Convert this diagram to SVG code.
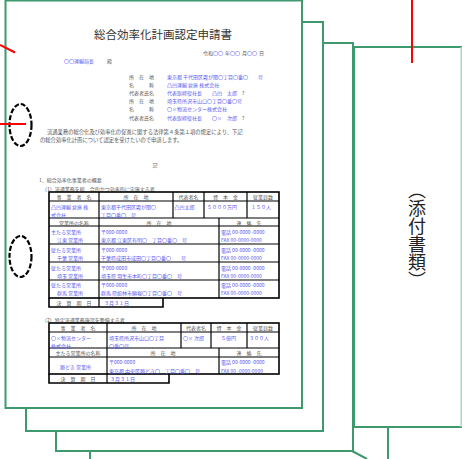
<svg xmlns="http://www.w3.org/2000/svg" width="462" height="459" viewBox="0 0 462 459">
<style>
.pg{fill:#fff;stroke:#3c9a6e;stroke-width:2}
.gl{fill:none;stroke:#3c9a6e;stroke-width:2}
.lg{fill:none;stroke:#a9d8bf;stroke-width:1.5}
.red{stroke:#ff0000;stroke-width:2;fill:none}
.hole{fill:none;stroke:#000;stroke-width:2.2;stroke-dasharray:5 2}
text{font-family:"Noto Sans CJK JP","Noto Sans",sans-serif;dominant-baseline:central}
.t{font-size:11.5px;fill:#333;letter-spacing:0}
.s{font-size:5px;fill:#555}
.b{font-size:5px;fill:#5a5af5}
.bd{font-size:5.3px;fill:#555}
.c{text-anchor:middle}
.tb{fill:none;stroke:#000;stroke-width:1.2}
.to{fill:none;stroke:#000;stroke-width:1.6}
.v{font-size:18px;fill:#222;writing-mode:vertical-rl}
</style>
<g id="back-pages">
<line class="gl" x1="90" y1="451" x2="90" y2="459"/>
<line class="gl" x1="352" y1="451" x2="367" y2="459"/>
<line class="gl" x1="388" y1="427" x2="388" y2="459"/>
</g>
<g id="attachments">
<rect x="354" y="47" width="108" height="380" fill="#fff" stroke="none"/>
<polyline class="gl" points="462,47 354,47 354,427 462,427"/>
<line class="lg" x1="461.2" y1="47" x2="461.2" y2="427"/>
<text class="v" x="417" y="181">（添付書類）</text>
</g>
<g id="page3"><rect class="pg" x="56" y="43" width="297" height="408"/></g>
<g id="page2"><rect class="pg" x="26" y="22" width="297" height="409"/></g>
<g id="page1">
<rect class="pg" x="5.5" y="0.5" width="296.5" height="407.5"/>
<text class="t" x="94" y="34">総合効率化計画認定申請書</text>
<text class="s" x="203" y="52"><tspan>令和</tspan><tspan fill="#5a5af5">〇〇</tspan><tspan dx="2">年</tspan><tspan fill="#5a5af5">〇〇</tspan><tspan dx="2">月</tspan><tspan fill="#5a5af5">〇〇</tspan><tspan dx="2">日</tspan></text>
<text class="b" x="64" y="60">〇〇運輸局長</text>
<text class="s" x="107" y="60">殿</text>
<text class="s" x="129" y="76">所　在　地</text>
<text class="s" x="129" y="84">名　　　称</text>
<text class="s" x="129" y="92">代表者氏名</text>
<text class="s" x="129" y="100">所　在　地</text>
<text class="s" x="129" y="108">名　　　称</text>
<text class="s" x="129" y="117">代表者氏名</text>
<text class="b" x="167" y="76">東京都 千代田区霞が関〇丁目〇番〇　　号</text>
<text class="b" x="167" y="84">凸凹運輸 倉庫 株式会社</text>
<text class="b" x="167" y="92">代表取締役社長　　凸凹　太郎　<tspan fill="#555">?</tspan></text>
<text class="b" x="167" y="100">埼玉県所沢市山口〇丁目〇番〇号</text>
<text class="b" x="167" y="108">〇×物流センター株式会社</text>
<text class="b" x="167" y="117">代表取締役社長　　〇×　次郎　<tspan fill="#555">?</tspan></text>
<text class="bd" x="47" y="132">流通業務の総合化及び効率化の促進に関する法律第４条第１項の規定により、下記</text>
<text class="bd" x="40" y="140">の総合効率化計画について認定を受けたいので申請します。</text>
<text class="s c" x="155" y="164">記</text>
<text class="s" x="39" y="179">1．総合効率化事業者の概要</text>
<text class="s" x="42" y="188">（1）流通業務を総　合的かつ効率的に実施する者</text>
<g id="table1">
<rect class="to" x="49" y="192" width="230" height="106"/>
<polyline class="to" points="49,298 49,307 163,307 163,298"/>
<line class="tb" x1="49" y1="201" x2="279" y2="201"/>
<line class="tb" x1="49" y1="218" x2="279" y2="218"/>
<line class="tb" x1="49" y1="226" x2="279" y2="226"/>
<line class="tb" x1="49" y1="244" x2="279" y2="244"/>
<line class="tb" x1="49" y1="262" x2="279" y2="262"/>
<line class="tb" x1="49" y1="280" x2="279" y2="280"/>
<line class="tb" x1="99" y1="192" x2="99" y2="307"/>
<line class="tb" x1="173" y1="192" x2="173" y2="218"/>
<line class="tb" x1="204" y1="192" x2="204" y2="218"/>
<line class="tb" x1="247" y1="192" x2="247" y2="218"/>
<line class="tb" x1="219" y1="218" x2="219" y2="298"/>
<text class="s c" x="74" y="196.5">事　業　者　名</text>
<text class="s c" x="136" y="196.5">所　在　地</text>
<text class="s c" x="188.5" y="196.5">代表者名</text>
<text class="s c" x="225.5" y="196.5">資　本　金</text>
<text class="s c" x="263" y="196.5">従業員数</text>
<text class="b" x="51" y="206.5">凸凹運輸 倉庫 株</text>
<text class="b" x="51" y="214">式会社</text>
<text class="b" x="101" y="206.5">東京都千代田区霞が関〇</text>
<text class="b" x="101" y="214">丁目〇番〇　号</text>
<text class="b" x="174.5" y="206.5">凸凹太郎</text>
<text class="b" x="207" y="206.5">５０００万円</text>
<text class="b" x="251" y="206.5">１５０人</text>
<text class="s c" x="74" y="222">営業所の名称</text>
<text class="s c" x="159" y="222">所　在　地</text>
<text class="s c" x="249" y="222">連　絡　先</text>
<text class="b" x="51" y="231">主たる営業所</text>
<text class="b" x="57" y="239">江東 営業所</text>
<text class="b" x="101" y="231">〒000-0000</text>
<text class="b" x="101" y="239">東京都 江東区有明〇　丁目〇番〇　号</text>
<text class="b" x="221" y="231">電話 00-0000 -0000</text>
<text class="b" x="221" y="239">FAX 00-0000-0000</text>
<text class="b" x="51" y="249">従たる営業所</text>
<text class="b" x="57" y="257">千葉 営業所</text>
<text class="b" x="101" y="249">〒000-0000</text>
<text class="b" x="101" y="257">千葉県成田市成田〇丁目〇番〇　　号</text>
<text class="b" x="221" y="249">電話 00-0000 -0000</text>
<text class="b" x="221" y="257">FAX 00-0000-0000</text>
<text class="b" x="51" y="267">従たる営業所</text>
<text class="b" x="57" y="275">埼玉 営業所</text>
<text class="b" x="101" y="267">〒000-0000</text>
<text class="b" x="101" y="275">埼玉県 羽生市本町〇丁目〇番〇　号</text>
<text class="b" x="221" y="267">電話 00-0000 -0000</text>
<text class="b" x="221" y="275">FAX 00-0000-0000</text>
<text class="b" x="51" y="284.5">従たる営業所</text>
<text class="b" x="57" y="292.5">群馬 営業所</text>
<text class="b" x="101" y="284.5">〒000-0000</text>
<text class="b" x="101" y="292.5">群馬 県館林市願堀〇丁目〇番〇　号</text>
<text class="b" x="221" y="284.5">電話 00-0000 -0000</text>
<text class="b" x="221" y="292.5">FAX 00-0000-0000</text>
<text class="s c" x="74" y="302.5">決　算　期　日</text>
<text class="b" x="104" y="302.5">３月３１日</text>
</g>
<text class="s" x="42" y="319">（2）特定流通業務施設を整備する者</text>
<g id="table2">
<rect class="to" x="49" y="323" width="230" height="51"/>
<polyline class="to" points="49,374 49,383 169,383 169,374"/>
<line class="tb" x1="49" y1="332" x2="279" y2="332"/>
<line class="tb" x1="49" y1="348" x2="279" y2="348"/>
<line class="tb" x1="49" y1="357" x2="279" y2="357"/>
<line class="tb" x1="107" y1="323" x2="107" y2="383"/>
<line class="tb" x1="181" y1="323" x2="181" y2="348"/>
<line class="tb" x1="211" y1="323" x2="211" y2="348"/>
<line class="tb" x1="247" y1="323" x2="247" y2="348"/>
<line class="tb" x1="219" y1="348" x2="219" y2="374"/>
<text class="s c" x="78" y="327.5">事　業　者　名</text>
<text class="s c" x="144" y="327.5">所　在　地</text>
<text class="s c" x="196" y="327.5">代表者名</text>
<text class="s c" x="229" y="327.5">資　本　金</text>
<text class="s c" x="263" y="327.5">従業員数</text>
<text class="b" x="51" y="337">〇×物流センター</text>
<text class="b" x="51" y="345">株式会社</text>
<text class="b" x="109" y="337">埼玉県所沢市山口〇丁目</text>
<text class="b" x="109" y="345">〇番〇号</text>
<text class="b" x="183" y="337">〇× 次郎</text>
<text class="b" x="221" y="337">５億円</text>
<text class="b" x="249" y="337">３００人</text>
<text class="s c" x="78" y="352.5">主たる営業所の名称</text>
<text class="s c" x="163" y="352.5">所　在　地</text>
<text class="s c" x="249" y="352.5">連　絡　先</text>
<text class="b" x="60" y="366">勝どき 営業所</text>
<text class="b" x="109" y="361.5">〒000-0000</text>
<text class="b" x="109" y="370">東京都 中央区勝どき〇　丁目〇番〇　号</text>
<text class="b" x="221" y="361.5">電話 00-0000 -0000</text>
<text class="b" x="221" y="370">FAX 00 -0000-0000</text>
<text class="s c" x="78" y="378.5">決　算　期　日</text>
<text class="b" x="110" y="378.5">３月３１日</text>
</g>
</g>
<g id="holes">
<ellipse class="hole" cx="20.5" cy="125" rx="11" ry="21"/>
<ellipse class="hole" cx="20.5" cy="256.5" rx="11" ry="20.5"/>
</g>
<g id="markers">
<line class="red" x1="0" y1="45" x2="15" y2="52.5"/>
<line class="red" x1="0" y1="124" x2="26" y2="124"/>
<line class="red" x1="412" y1="0" x2="412" y2="63"/>
</g>
</svg>
